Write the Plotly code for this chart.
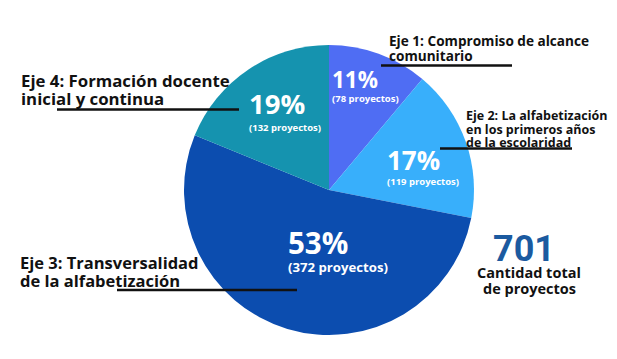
import plotly.graph_objects as go

# ---- data ----
ejes = ["Eje 1: Compromiso de alcance comunitario",
        "Eje 2: La alfabetización en los primeros años de la escolaridad",
        "Eje 3: Transversalidad de la alfabetización",
        "Eje 4: Formación docente inicial y continua"]
proyectos = [78, 119, 372, 132]
colores = ["#4F6DF3", "#38AFFB", "#0C4DAF", "#1593AF"]
total = sum(proyectos)
pcts = [round(v / total * 100) for v in proyectos]

W, H = 617, 359


def px(x):
    return x / W


def py(y):
    return 1 - y / H


fig = go.Figure()
fig.add_trace(go.Pie(
    labels=ejes, values=proyectos, sort=False, direction="clockwise",
    rotation=0, marker=dict(colors=colores, line=dict(width=0)),
    textinfo="none", showlegend=False, hoverinfo="label+value+percent",
    domain=dict(x=[px(184), px(474)], y=[py(335), py(45)]),
))

ann = []
LBL = "Open Sans"
NUM = "Open Sans"


def txt(x, y, s, size, color="#111111", family=LBL, xanchor="left", weight=700):
    ann.append(dict(x=px(x), y=py(y), xref="paper", yref="paper", text=s,
                    showarrow=False, xanchor=xanchor, yanchor="middle",
                    font=dict(family=family, size=size, color=color, weight=weight)))


# axis labels
txt(387, 40.5, "Eje 1: Compromiso de alcance", 13.6)
txt(387, 55, "comunitario", 13.6)
txt(464, 115, "Eje 2: La alfabetización", 12.5)
txt(464, 129, "en los primeros años", 12.5)
txt(464, 142.5, "de la escolaridad", 12.5)
txt(19, 80.5, "Eje 4: Formación docente", 16.8)
txt(19, 98, "inicial y continua", 16.8)
txt(18, 262.5, "Eje 3: Transversalidad", 16.5)
txt(18, 280.5, "de la alfabetización", 16.5)

# percentages inside slices
pos = [(330, 80, 98, 22.5, 9.5), (385, 160, 181, 26, 9.5),
       (286, 242, 267, 29.5, 13.2), (247, 103, 127, 27.5, 9.5)]
for (x, y1, y2, s1, s2), p, v in zip(pos, pcts, proyectos):
    txt(x, y1, f"{p}%", s1, color="white", family=NUM)
    txt(x, y2, f"({v} proyectos)", s2, color="white", family=LBL)

# total
txt(524, 249, f"{total}", 36, color="#1B5AA0", family="Roboto", xanchor="center")
txt(529, 272, "Cantidad total", 14.5, xanchor="center")
txt(529, 288, "de proyectos", 14.5, xanchor="center")

# underlines
shapes = []
for x0, x1, y in [(381, 512, 65.5), (440, 572, 148.5), (57, 239, 109.5), (117, 297, 290)]:
    shapes.append(dict(type="line", xref="paper", yref="paper",
                       x0=px(x0), x1=px(x1), y0=py(y), y1=py(y),
                       line=dict(color="#111111", width=2.5)))

fig.update_layout(width=W, height=H, margin=dict(l=0, r=0, t=0, b=0),
                  paper_bgcolor="white", plot_bgcolor="white",
                  annotations=ann, shapes=shapes)
fig.write_html("out.html", config={"displayModeBar": False},
               post_script="document.body.style.margin='0px';")
